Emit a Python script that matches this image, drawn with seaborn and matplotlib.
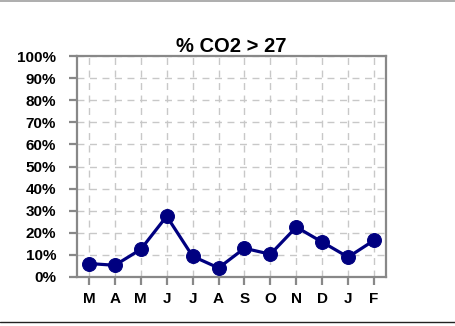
import matplotlib
matplotlib.use("Agg")
import matplotlib.pyplot as plt
from matplotlib.lines import Line2D
import seaborn as sns
import pandas as pd

months = ["M", "A", "M", "J", "J", "A", "S", "O", "N", "D", "J", "F"]
values = [6.1, 5.3, 12.5, 27.5, 9.4, 4.1, 13.0, 10.3, 22.6, 15.8, 9.0, 16.6]
yticks = [0, 10, 20, 30, 40, 50, 60, 70, 80, 90, 100]
ytick_labels = [f"{v}%" for v in yticks]
title = "% CO2 > 27"

sns.set_style("white")
plt.rcParams["font.family"] = ["Liberation Sans", "DejaVu Sans"]
plt.rcParams["text.color"] = "black"
plt.rcParams["xtick.labelcolor"] = "black"
plt.rcParams["ytick.labelcolor"] = "black"

W, H = 456, 326
fig = plt.figure(figsize=(W / 100, H / 100), dpi=100)
ax = fig.add_axes([77 / W, (H - 277) / H, (386 - 77) / W, (277 - 56) / H])

df = pd.DataFrame({"idx": range(len(months)), "val": values})
sns.lineplot(data=df, x="idx", y="val", ax=ax, sort=False, color="#000080",
             linewidth=2.3, marker="o", markersize=10, markeredgecolor="#000080",
             zorder=5)

ax.set_xlim(-0.46, len(months) - 1 + 0.46)
ax.set_ylim(0, 100)
ax.set_xticks(range(len(months)))
ax.set_xticklabels(months, fontsize=11, fontweight="bold", color="black")
ax.set_yticks(yticks)
ax.set_yticklabels(ytick_labels, fontsize=11, fontweight="bold", color="black")
ax.set_xlabel("")
ax.set_ylabel("")

ax.grid(True, color="#c8c8c8", linestyle=(0, (5, 4)), linewidth=1)
ax.set_axisbelow(True)
for s in ax.spines.values():
    s.set_visible(True)
    s.set_color("#888888")
    s.set_linewidth(1.6)
ax.tick_params(axis="y", which="major", direction="out", length=6, width=1.6,
               color="#888888", pad=9, left=True)
ax.tick_params(axis="x", which="major", direction="out", length=6, width=1.6,
               color="#888888", pad=5, bottom=True)

ax.set_title(title, fontsize=14.5, fontweight="bold", color="black", pad=3)

fig.add_artist(Line2D([0, 1], [1 - 0.5 / H, 1 - 0.5 / H], transform=fig.transFigure,
                      color="#a0a0a0", linewidth=1.2))
fig.add_artist(Line2D([0, 1], [1 - 322 / H, 1 - 322 / H], transform=fig.transFigure,
                      color="#222222", linewidth=1.0))

fig.savefig("out.png", dpi=100)
